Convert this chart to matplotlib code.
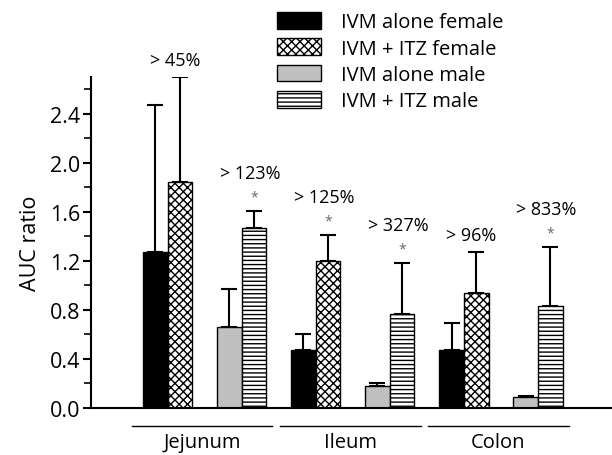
import matplotlib.pyplot as plt
import matplotlib.transforms as mtransforms
from matplotlib.patches import Patch
from matplotlib.ticker import MultipleLocator, FormatStrFormatter

plt.rcParams['font.family'] = ['Open Sans', 'DejaVu Sans']
plt.rcParams['hatch.linewidth'] = 1.0

# data (bar height and upper error)
tissues = ['Jejunum', 'Ileum', 'Colon']
series_names = ['IVM alone female', 'IVM + ITZ female', 'IVM alone male', 'IVM + ITZ male']

ivm_female = [1.27, 0.47, 0.47]
ivm_female_err = [1.20, 0.13, 0.22]
itz_female = [1.84, 1.20, 0.94]
itz_female_err = [0.86, 0.21, 0.33]
ivm_male = [0.66, 0.18, 0.09]
ivm_male_err = [0.31, 0.02, 0.01]
itz_male = [1.47, 0.77, 0.83]
itz_male_err = [0.14, 0.41, 0.48]

female_increase = ['> 45%', '> 125%', '> 96%']
female_signif = [False, True, False]
male_increase = ['> 123%', '> 327%', '> 833%']
male_signif = [True, True, True]

# styles for each series
colors = ['black', 'white', '#c0c0c0', 'white']
hatches = [None, 'xxxx', None, '----']
offsets = [0, 1, 3, 4]
group_step = 6

fig = plt.figure(figsize=(6.12, 4.56), dpi=100)
ax = fig.add_axes([91 / 612, 47 / 456, 1 - 91 / 612, (409 - 78) / 456])

values = [ivm_female, itz_female, ivm_male, itz_male]
errors = [ivm_female_err, itz_female_err, ivm_male_err, itz_male_err]

for s in range(4):
    xs = [g * group_step + offsets[s] for g in range(len(tissues))]
    centers = [x + 0.5 for x in xs]
    ax.bar(xs, values[s], width=1.0, align='edge', color=colors[s],
           edgecolor='black', linewidth=1.0, hatch=hatches[s], zorder=2)
    ax.errorbar(centers, values[s], yerr=[[0] * len(xs), errors[s]], fmt='none',
                ecolor='black', elinewidth=1.5, capsize=5.5, capthick=1.5, zorder=1)

# percentage increase annotations above the ITZ bars
for s, labels, signif in [(1, female_increase, female_signif), (3, male_increase, male_signif)]:
    for g in range(len(tissues)):
        cx = g * group_step + offsets[s] + 0.5
        top = values[s][g] + errors[s][g]
        if signif[g]:
            ax.text(cx, top + 0.115, '*', ha='center', va='center', fontsize=10,
                    color='#666666', clip_on=False)
            ax.text(cx - 0.15, top + 0.31, labels[g], ha='center', va='center',
                    fontsize=13, clip_on=False)
        else:
            ax.text(cx - 0.2, top + 0.14, labels[g], ha='center', va='center',
                    fontsize=13, clip_on=False)

# group underlines and labels
trans = mtransforms.blended_transform_factory(ax.transData, ax.transAxes)
for g, name in enumerate(tissues):
    c = g * group_step + 2.4
    ax.plot([c - 2.85, c + 2.85], [-0.054, -0.054], color='black', lw=1.0,
            transform=trans, clip_on=False)
    ax.text(c, -0.118, name, ha='center', va='baseline', fontsize=14.5, transform=trans)

ax.set_xlim(-2.1, 19.0)
ax.set_ylim(0, 2.7)
ax.set_xticks([])
ax.yaxis.set_major_locator(MultipleLocator(0.4))
ax.yaxis.set_minor_locator(MultipleLocator(0.2))
ax.yaxis.set_major_formatter(FormatStrFormatter('%.1f'))
ax.tick_params(axis='y', which='major', direction='out', length=6, width=1.5,
               labelsize=15.5, pad=2)
ax.tick_params(axis='y', which='minor', direction='out', length=5, width=1.2)
ax.spines['top'].set_visible(False)
ax.spines['right'].set_visible(False)
ax.spines['left'].set_linewidth(1.5)
ax.spines['bottom'].set_linewidth(1.5)
ax.set_ylabel('AUC ratio', fontsize=15.5, labelpad=6)

handles = [Patch(facecolor=colors[i], edgecolor='black', hatch=hatches[i], linewidth=1.0)
           for i in range(4)]
fig.legend(handles, series_names, loc='upper left', bbox_to_anchor=(277 / 612, 1 - 13 / 456),
           frameon=False, fontsize=14.5, handlelength=2.2, handleheight=0.9,
           handletextpad=1.0, labelspacing=0.3, borderpad=0, borderaxespad=0)

fig.savefig('out.png', dpi=100)
